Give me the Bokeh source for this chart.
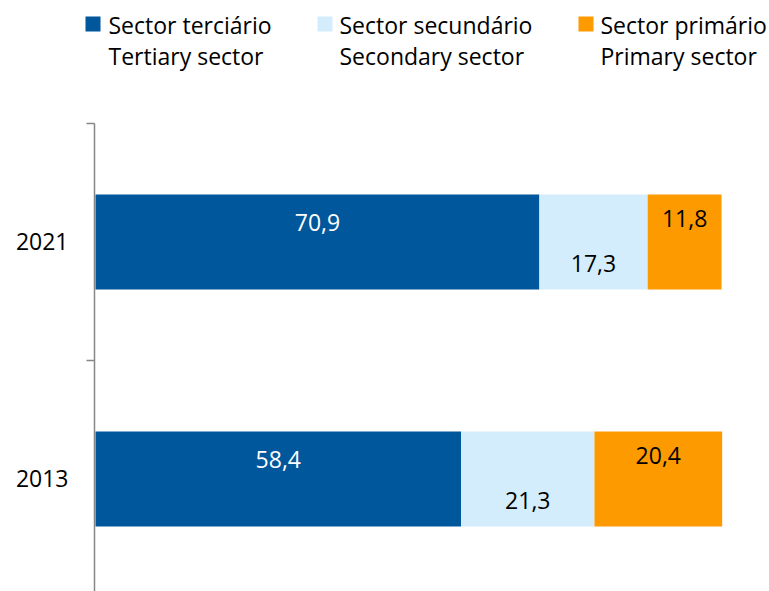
from bokeh.plotting import figure
from bokeh.models import Range1d, FixedTicker, ColumnDataSource
from bokeh.layouts import column
from bokeh.core.properties import value
from bokeh.embed import file_html
from bokeh.resources import INLINE

years = ["2013", "2021"]
tertiary = [58.4, 70.9]
secondary = [21.3, 17.3]
primary = [20.4, 11.8]
series_pt = ["Sector terciário", "Sector secundário", "Sector primário"]
series_en = ["Tertiary sector", "Secondary sector", "Primary sector"]
colors = ["#01579B", "#D4EDFC", "#FD9A00"]
label_colors = ["white", "black", "black"]
label_offsets = [-19, 21.5, -23]

FONT = value("Open Sans")
FS = "23px"

# ---- legend figure ----
leg = figure(width=768, height=121, x_range=Range1d(0, 768), y_range=Range1d(121, 0),
             output_backend="svg", toolbar_location=None, min_border=0,
             x_axis_location=None, y_axis_location=None)
leg.grid.visible = False
leg.outline_line_color = None
sq_x = [92.5, 324.5, 585.5]
tx_x = [108, 339, 600]
leg.rect(x=sq_x, y=[23.5] * 3, width=15, height=15, fill_color=colors, line_color=None)
leg.text(x=tx_x, y=[24] * 3, text=series_pt, text_font=FONT, text_font_size=FS,
         text_baseline="alphabetic", text_align="left", text_color="black")
leg.text(x=tx_x, y=[55] * 3, text=series_en, text_font=FONT, text_font_size=FS,
         text_baseline="alphabetic", text_align="left", text_color="black")

# ---- main figure ----
ypos = [0.5, 1.5]
src = ColumnDataSource(dict(y=ypos, tertiary=tertiary, secondary=secondary, primary=primary))
p = figure(width=768, height=470, x_range=Range1d(-0.16, 107.5), y_range=Range1d(0.0253, 2),
           output_backend="svg", toolbar_location=None,
           min_border_left=94, min_border_right=0, min_border_top=2, min_border_bottom=0)
p.hbar_stack(["tertiary", "secondary", "primary"], y="y", height=0.4, color=colors,
             line_color=None, source=src)
p.xaxis.visible = False
p.grid.visible = False
p.outline_line_color = None

p.yaxis.ticker = FixedTicker(ticks=ypos, minor_ticks=[0, 1, 2])
p.yaxis.major_label_overrides = {0.5: years[0], 1.5: years[1]}
p.yaxis.major_tick_out = 0
p.yaxis.major_tick_in = 0
p.yaxis.minor_tick_out = 8
p.yaxis.minor_tick_in = 0
p.yaxis.minor_tick_line_color = "#868686"
p.yaxis.minor_tick_line_width = 1.5
p.yaxis.axis_line_color = "#868686"
p.yaxis.axis_line_width = 1.5
p.yaxis.major_label_standoff = 18
p.yaxis.major_label_text_font = "Open Sans"
p.yaxis.major_label_text_font_size = FS
p.yaxis.major_label_text_color = "black"

series = [tertiary, secondary, primary]
for i, vals in enumerate(series):
    starts = [sum(s[j] for s in series[:i]) for j in range(len(vals))]
    xs = [st + v / 2 for st, v in zip(starts, vals)]
    txt = [f"{v:.1f}".replace(".", ",") for v in vals]
    p.text(x=xs, y=ypos, text=txt, y_offset=label_offsets[i], text_align="center",
           text_baseline="alphabetic", text_font=FONT, text_font_size=FS,
           text_color=label_colors[i])

layout = column(column(leg), p, spacing=0)
open("out.html", "w").write(file_html(layout, INLINE))
